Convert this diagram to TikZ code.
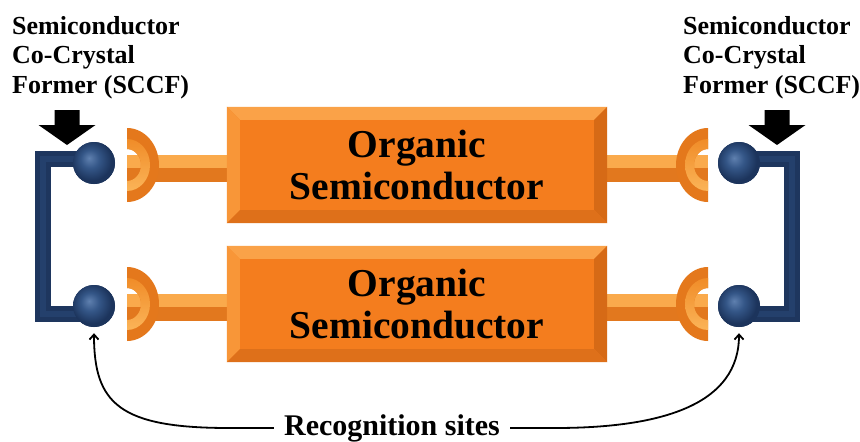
\documentclass[tikz,border=0pt]{standalone}
\usepackage{fontspec}
\setmainfont{Liberation Serif}
\usetikzlibrary{arrows.meta,calc}
\definecolor{boxface}{RGB}{244,125,30}
\definecolor{bevtop}{RGB}{250,162,72}
\definecolor{bevleft}{RGB}{248,150,56}
\definecolor{bevright}{RGB}{214,106,22}
\definecolor{bevbot}{RGB}{222,112,26}
\definecolor{barhi}{RGB}{250,170,76}
\definecolor{barlo}{RGB}{226,120,30}
\definecolor{cupc}{RGB}{228,120,28}
\definecolor{cuptop}{RGB}{240,140,40}
\definecolor{cupbot}{RGB}{251,180,88}
\definecolor{navy}{RGB}{30,54,94}
\definecolor{navyhi}{RGB}{36,64,108}
\definecolor{ballhi}{RGB}{95,128,175}
\definecolor{ballmid}{RGB}{52,86,135}
\definecolor{balldk}{RGB}{28,52,92}
\pgfdeclareradialshading{ballsh}{\pgfpoint{-6bp}{6bp}}{color(0bp)=(ballhi); color(11bp)=(ballmid); color(24bp)=(balldk); color(26bp)=(balldk); color(50bp)=(balldk)}
\begin{document}
\begin{tikzpicture}[x=1pt,y=-1pt,
  osbox/.style={fill=boxface, minimum width=380pt, minimum height=116pt, inner sep=0pt, align=center,
    font=\bfseries\fontsize{39.5}{42}\selectfont},
  ballnode/.style={circle, minimum size=42pt, inner sep=0pt, shading=ballsh},
  brk/.style={draw=navy, line width=16pt, line join=miter},
  brkhi/.style={draw=navyhi, line width=6pt, line join=miter},
  barup/.style={draw=barhi, line width=13pt},
  bardn/.style={draw=barlo, line width=14pt},
  lbl/.style={font=\bfseries\fontsize{26}{29.5}\selectfont, align=left, inner sep=0pt, anchor=north west},
  rarr/.style={draw=black, line width=1.8pt, -{Straight Barb[length=5pt,width=9pt]}},
  bigarrow/.style={fill=black},
  pics/cupshape/.style={code={
    \fill[cupc] (0,-37) arc[start angle=90,end angle=-90,x radius=32pt,y radius=37pt]
      -- (0,16) arc[start angle=-90,end angle=90,x radius=14pt,y radius=16pt] -- cycle;
    \shade[top color=cuptop, bottom color=cupbot] (0,16) arc[start angle=-90,end angle=90,x radius=14pt,y radius=16pt]
      -- (0,-26) arc[start angle=90,end angle=-90,x radius=23pt,y radius=26pt] -- cycle;
  }}]
\useasboundingbox (0,0) rectangle (860,442);
\fill[white] (0,0) rectangle (860,442);

% cup centres
\coordinate (cL1) at (127,165);
\coordinate (cL2) at (127,304);
\coordinate (cR1) at (708,165);
\coordinate (cR2) at (708,304);

% boxes
\node[osbox] (box1) at (417,165) {Organic\\Semiconductor};
\node[osbox] (box2) at (417,304) {Organic\\Semiconductor};

% bars (connect cups to boxes)
\foreach \c/\b/\s in {cL1/box1/west, cL2/box2/west, cR1/box1/east, cR2/box2/east}{
  \draw[barup] ([yshift=3.5pt]\c) -- ([yshift=3.5pt]\b.\s);
  \draw[bardn] ([yshift=-10pt]\c) -- ([yshift=-10pt]\b.\s);
}

% bevels
\foreach \b in {box1,box2}{
  \fill[bevtop] (\b.north west) -- (\b.north east) -- ++(-13,13) -- ($(\b.north west)+(13,13)$) -- cycle;
  \fill[bevleft] (\b.north west) -- ++(13,13) -- ($(\b.south west)+(13,-13)$) -- (\b.south west) -- cycle;
  \fill[bevright] (\b.north east) -- ++(-13,13) -- ($(\b.south east)+(-13,-13)$) -- (\b.south east) -- cycle;
  \fill[bevbot] (\b.south west) -- ++(13,-13) -- ($(\b.south east)+(-13,-13)$) -- (\b.south east) -- cycle;
}

% cups
\pic at (cL1) {cupshape};
\pic at (cL2) {cupshape};
\pic[xscale=-1] at (cR1) {cupshape};
\pic[xscale=-1] at (cR2) {cupshape};

% balls
\node[ballnode] (bL1) at (94,163) {};
\node[ballnode] (bL2) at (94,306) {};
\node[ballnode] (bR1) at (739,163) {};
\node[ballnode] (bR2) at (739,306) {};

% brackets
\coordinate (kL) at (43,236);
\coordinate (kR) at (792,236);
\path[brk] ([yshift=4.5pt]bL1.center) -| (kL) |- ([yshift=-7.5pt]bL2.center);
\path[brkhi] ([yshift=4.5pt]bL1.center) -| (kL) |- ([yshift=-7.5pt]bL2.center);
\path[brk] ([yshift=4.5pt]bR1.center) -| (kR) |- ([yshift=-7.5pt]bR2.center);
\path[brkhi] ([yshift=4.5pt]bR1.center) -| (kR) |- ([yshift=-7.5pt]bR2.center);
% redraw balls on top of the brackets
\foreach \n in {bL1,bL2,bR1,bR2}{
  \path[shading=ballsh] (\n.center) circle[radius=21pt];
}

% big black arrows
\coordinate (tL) at (67,145);
\coordinate (tR) at (777,145);
\foreach \t in {tL,tR}{
  \fill[bigarrow] (\t) -- ++(-28.5,-20) -- ++(16,0) -- ++(0,-15) -- ++(25,0) -- ++(0,15) -- ++(16,0) -- cycle;
}

% labels
\node[lbl] (sL) at (12,16) {Semiconductor\\Co-Crystal\\Former (SCCF)};
\node[lbl] (sR) at (683,16) {Semiconductor\\Co-Crystal\\Former (SCCF)};

\node[font=\bfseries\fontsize{30}{33}\selectfont, inner sep=0pt] (rec) at (392,428) {Recognition sites};

\draw[rarr] ([xshift=-10pt]rec.west) -- ++(-45,0) .. controls +(-110,0) and +(0,70) .. ([yshift=-6pt]bL2.south);
\draw[rarr] ([xshift=10pt]rec.east) -- ++(45,0) .. controls +(110,0) and +(0,70) .. ([yshift=-6pt]bR2.south);
\end{tikzpicture}
\end{document}
